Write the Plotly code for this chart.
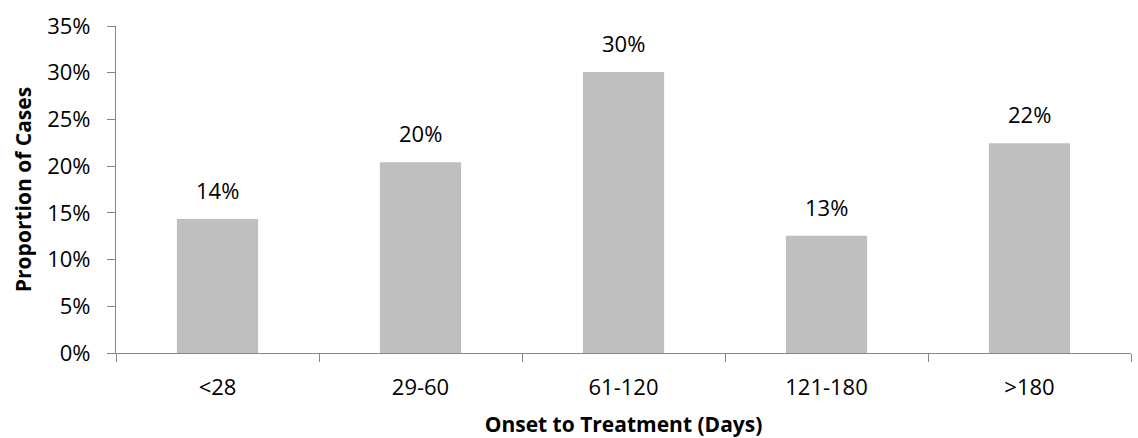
import plotly.graph_objects as go

categories = ["<28", "29-60", "61-120", "121-180", ">180"]
proportions = [0.1434, 0.2041, 0.3008, 0.1255, 0.2244]
y_ticks = [0, 0.05, 0.10, 0.15, 0.20, 0.25, 0.30, 0.35]

FONT = "Open Sans"
fig = go.Figure()
fig.add_trace(go.Bar(
    x=categories, y=proportions,
    marker=dict(color="#bfbfbf", line=dict(width=0)),
    width=0.4,
    hoverinfo="skip",
))
for c, v in zip(categories, proportions):
    fig.add_annotation(x=c, y=v, text=f"{v:.0%}", showarrow=False,
                       yanchor="bottom", yshift=12,
                       font=dict(family=FONT, size=22, color="#000000"))

fig.update_layout(
    width=1138, height=438,
    margin=dict(l=116, r=7, t=26, b=85),
    paper_bgcolor="white", plot_bgcolor="white",
    showlegend=False,
    font=dict(family=FONT, size=22, color="#000000"),
    xaxis=dict(
        showline=True, linecolor="#868686", linewidth=1.2,
        ticks="outside", ticklen=8, tickcolor="#868686", tickwidth=1.2,
        tickson="boundaries", showgrid=False,
        ticklabelstandoff=14,
        tickfont=dict(family=FONT, size=22, color="#000000"),
        title=dict(text="<b>Onset to Treatment (Days)</b>", standoff=17,
                   font=dict(family=FONT, size=21, color="#000000")),
    ),
    yaxis=dict(
        range=[0, 0.35], tickvals=y_ticks, tickformat=".0%",
        showline=True, linecolor="#868686", linewidth=1.2,
        ticks="outside", ticklen=8, tickcolor="#868686", tickwidth=1.2,
        showgrid=False, zeroline=False,
        ticklabelstandoff=12,
        tickfont=dict(family=FONT, size=22, color="#000000"),
        title=dict(text="<b>Proportion of Cases</b>", standoff=9,
                   font=dict(family=FONT, size=21, color="#000000")),
    ),
)
fig.write_html("out.html")
